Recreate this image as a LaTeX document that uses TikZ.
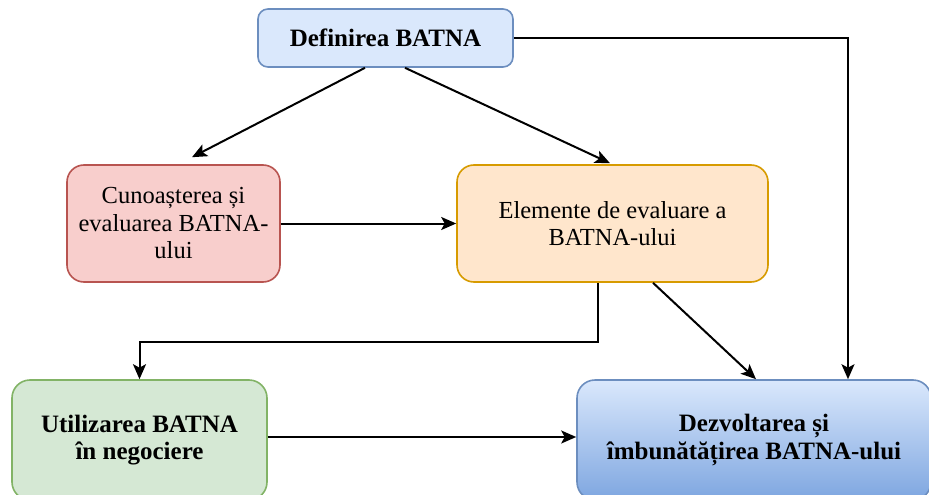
\documentclass[tikz,border=0pt]{standalone}
\usepackage{fontspec}
\setmainfont{Liberation Serif}
\usetikzlibrary{arrows.meta,calc}

\definecolor{bluefill}{HTML}{DAE8FC}
\definecolor{bluedraw}{HTML}{6C8EBF}
\definecolor{bluedeep}{HTML}{7EA6E0}
\definecolor{redfill}{HTML}{F8CECC}
\definecolor{reddraw}{HTML}{B85450}
\definecolor{orangefill}{HTML}{FFE6CC}
\definecolor{orangedraw}{HTML}{D79B00}
\definecolor{greenfill}{HTML}{D5E8D4}
\definecolor{greendraw}{HTML}{82B366}

\tikzset{
  box/.style={rectangle, rounded corners=#1, line width=1.6pt, align=center,
    inner sep=0pt, font=\fontsize{24.5}{27.5}\selectfont},
  box/.default=14pt,
  boldtext/.style={font=\fontsize{25}{27.5}\selectfont\bfseries},
  link/.style={line width=2pt, -{Stealth[length=15pt,width=13pt,inset=3.5pt]}},
}

\begin{document}
\begin{tikzpicture}[x=1pt,y=-1pt]
  \useasboundingbox (0,0) rectangle (929,495);
  \clip (0,0) rectangle (929,495);

  % boxes
  \node[box=10pt, boldtext, fill=bluefill, draw=bluedraw,
        minimum width=255pt, minimum height=58pt] (def) at (385.5,38) {Definirea BATNA};
  \node[box=17pt, fill=redfill, draw=reddraw,
        minimum width=213pt, minimum height=117pt] (cun) at (173.5,223.5)
        {Cunoașterea și\\evaluarea BATNA-\\ului};
  \node[box=17pt, fill=orangefill, draw=orangedraw,
        minimum width=311pt, minimum height=117pt] (ele) at (612.5,223.5)
        {Elemente de evaluare a\\BATNA-ului};
  \node[box=18pt, boldtext, fill=greenfill, draw=greendraw,
        minimum width=255pt, minimum height=120pt] (utl) at (139.5,440)
        {Utilizarea BATNA\\în negociere};
  \node[box=18pt, boldtext, top color=bluefill, bottom color=bluedeep, draw=bluedraw,
        minimum width=354pt, minimum height=120pt] (dez) at (754,440)
        {Dezvoltarea și\\îmbunătățirea BATNA-ului};

  % connectors
  \draw[link] ([xshift=-20.5pt]def.south) -- ([xshift=18.5pt,yshift=7pt]cun.north);
  \draw[link] ([xshift=19.5pt]def.south) -- ([xshift=-2.5pt,yshift=1pt]ele.north);
  \draw[link] (def.east) -| ([xshift=94pt]dez.north);
  \draw[link] (cun.east) -- (ele.west);
  \draw[link] ([xshift=-14.5pt]ele.south) -- ++(0,59) -| (utl.north);
  \draw[link] ([xshift=40.5pt]ele.south) -- ([xshift=2pt]dez.north);
  \draw[link] ([yshift=3pt]utl.east) -- ([yshift=3pt]dez.west);
\end{tikzpicture}
\end{document}
